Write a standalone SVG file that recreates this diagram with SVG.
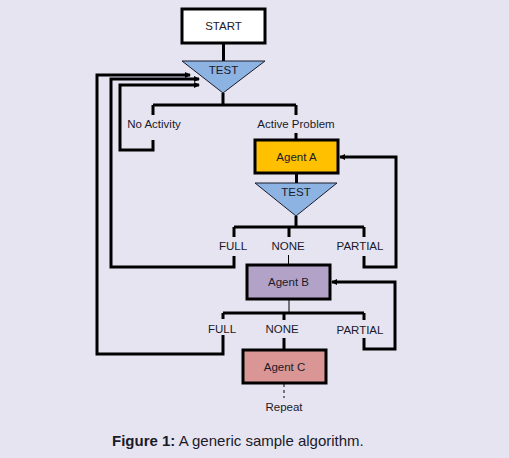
<svg xmlns="http://www.w3.org/2000/svg" width="509" height="458" viewBox="0 0 509 458">
<defs>
<marker id="ah" viewBox="0 0 6 6" refX="5" refY="3" markerWidth="2" markerHeight="2" orient="auto" markerUnits="strokeWidth">
<path d="M0,0 L6,3 L0,6 Z" fill="#000"/>
</marker>
<style>
text{font-family:"Liberation Sans",Arial,sans-serif;font-size:11.5px;fill:#1a1a2a;text-anchor:middle}
.box{stroke:#000;stroke-width:3}
.tri{fill:#8db3e2;stroke:#1a1a2a;stroke-width:1}
.c{fill:none;stroke:#000;stroke-width:3}
.t{fill:none;stroke:#000;stroke-width:1}
</style>
</defs>
<rect width="509" height="458" fill="#e6e4f0"/>
<g id="connectors">
<path class="c" d="M223.5,43 V61"/>
<path class="c" d="M223,93 V105 M153,105 H296 M153,105 V115 M296,105 V115"/>
<path class="c" d="M296,133 V140"/>
<path class="c" d="M153,140 V150 H120 V85 H199" marker-end="url(#ah)"/>
<path class="c" d="M296.5,173 V183"/>
<path class="c" d="M296,216 V227 M234,227 H364 M234,227 V237 M289,227 V237 M364,227 V237"/>
<path class="c" d="M234,256 V267 H111 V79 H199" marker-end="url(#ah)"/>
<path class="c" d="M364,256 V267 H396 V157 H340" marker-end="url(#ah)"/>
<path class="t" d="M288.5,255 V265"/>
<path class="t" d="M289,299 V312"/>
<path class="c" d="M223,313 H364 M223,313 V319 M284,313 V320 M364,313 V320"/>
<path class="c" d="M284,338 V350"/>
<path class="c" d="M223,335 V354 H97 V75 H190" marker-end="url(#ah)"/>
<path class="c" d="M364,338 V349 H395 V282 H332" marker-end="url(#ah)"/>
<path class="t" d="M284,384 V398" stroke-dasharray="3,3"/>
</g>
<g id="start">
<rect class="box" x="182" y="9" width="83" height="34" fill="#fff"/>
<text x="223.5" y="30">START</text>
</g>
<g id="test1">
<polygon class="tri" points="182,61 265,61 223,93"/>
<text x="223.5" y="74">TEST</text>
</g>
<g id="no-activity"><text x="154" y="128">No Activity</text></g>
<g id="active-problem"><text x="296" y="128">Active Problem</text></g>
<g id="agent-a">
<rect class="box" x="255" y="140" width="83" height="33" fill="#ffc000"/>
<text x="296.5" y="161">Agent A</text>
</g>
<g id="test2">
<polygon class="tri" points="255,183 337,183 296,216"/>
<text x="296" y="196">TEST</text>
</g>
<g id="full1"><text x="233" y="250">FULL</text></g>
<g id="none1"><text x="288" y="250">NONE</text></g>
<g id="partial1"><text x="360" y="250">PARTIAL</text></g>
<g id="agent-b">
<rect class="box" x="247" y="265" width="83" height="34" fill="#b3a2c7"/>
<text x="288.5" y="286">Agent B</text>
</g>
<g id="full2"><text x="222" y="333">FULL</text></g>
<g id="none2"><text x="282" y="333">NONE</text></g>
<g id="partial2"><text x="360" y="334">PARTIAL</text></g>
<g id="agent-c">
<rect class="box" x="243" y="350" width="83" height="33" fill="#da9694"/>
<text x="284.5" y="371">Agent C</text>
</g>
<g id="repeat"><text x="284" y="411">Repeat</text></g>
<g id="caption">
<text x="112" y="446" style="text-anchor:start;font-size:15px"><tspan font-weight="bold">Figure 1:</tspan> A generic sample algorithm.</text>
</g>
</svg>
